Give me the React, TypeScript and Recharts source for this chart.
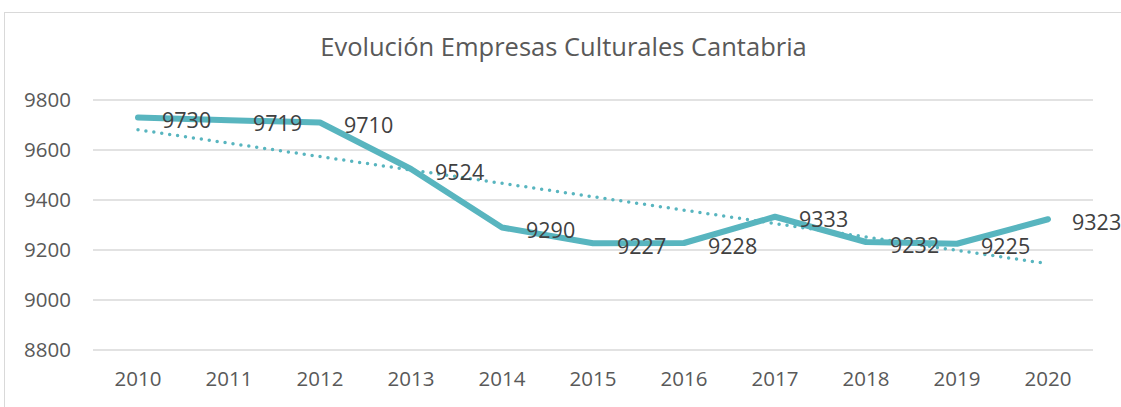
import React from 'react';
import { LineChart, Line, XAxis, YAxis, CartesianGrid, LabelList } from 'recharts';

const years = ['2010', '2011', '2012', '2013', '2014', '2015', '2016', '2017', '2018', '2019', '2020'];
const empresas = [9730, 9719, 9710, 9524, 9290, 9227, 9228, 9333, 9232, 9225, 9323];
// Excel linear trendline at its two ends
const tendencia = [9681, null, null, null, null, null, null, null, null, null, 9145];
const yTicks = [8800, 9000, 9200, 9400, 9600, 9800];

const data = years.map((year, i) => ({ year, value: empresas[i], trend: tendencia[i] }));

const FONT = '"Open Sans", "Noto Sans", sans-serif';
const TEAL = '#58B5BF';

const ValueLabel = (props: any) => {
  const { x, y, value } = props;
  return (
    <text x={x + 24} y={y + 2} dominantBaseline="central" textAnchor="start"
      fill="#404040" fontSize={21.5} fontFamily={FONT}>
      {value}
    </text>
  );
};

export default function App() {
  return (
    <div style={{ position: 'absolute', left: 0, top: 0, width: 1121, height: 407, background: '#fff', overflow: 'hidden' }}>
      {/* chart frame */}
      <div style={{ position: 'absolute', left: 4, top: 12, width: 1130, height: 420, border: '1.5px solid #D9D9D9' }} />
      <div style={{ position: 'absolute', left: 0, top: 29, width: 1127, textAlign: 'center', fontFamily: FONT, fontSize: 25.5, color: '#595959' }}>
        Evolución Empresas Culturales Cantabria
      </div>
      <LineChart width={1121} height={407} data={data} margin={{ top: 100, right: 28, bottom: 0, left: 0 }}>
        <CartesianGrid vertical={false} stroke="#D9D9D9" strokeWidth={1.5} />
        <XAxis dataKey="year" axisLine={false} tickLine={false} tickSize={0} tickMargin={21} height={57}
          padding={{ left: 45, right: 45 }}
          tick={{ fill: '#595959', fontSize: 20.5, fontFamily: FONT }} interval={0} />
        <YAxis domain={[8800, 9800]} ticks={yTicks} axisLine={false} tickLine={false} tickSize={0} tickMargin={22} width={93}
          tick={{ fill: '#595959', fontSize: 20.5, fontFamily: FONT }} />
        <Line dataKey="trend" connectNulls stroke={TEAL} strokeWidth={3.5} strokeDasharray="0 8" strokeLinecap="round"
          dot={false} isAnimationActive={false} />
        <Line dataKey="value" stroke={TEAL} strokeWidth={6} strokeLinecap="round" strokeLinejoin="round"
          dot={false} isAnimationActive={false}>
          <LabelList dataKey="value" content={ValueLabel} />
        </Line>
      </LineChart>
    </div>
  );
}
